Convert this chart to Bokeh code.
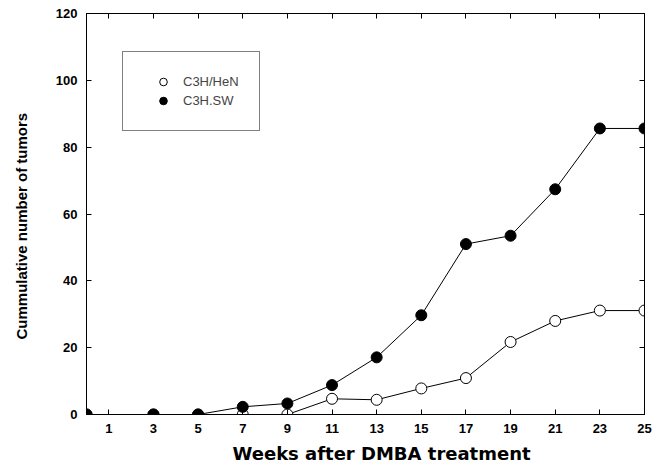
from bokeh.plotting import figure
from bokeh.models import Range1d, LinearAxis, FixedTicker, Legend, LegendItem, Title
from bokeh.embed import file_html
from bokeh.resources import INLINE

weeks = [0, 3, 5, 7, 9, 11, 13, 15, 17, 19, 21, 23, 25]
hen = [0, 0, 0, 0, 0, 4.7, 4.4, 7.8, 10.9, 21.7, 28.0, 31.1, 31.1]
sw = [0, 0, 0, 2.3, 3.3, 8.8, 17.1, 29.7, 51.0, 53.5, 67.4, 85.6, 85.6]
x_ticks = [1, 3, 5, 7, 9, 11, 13, 15, 17, 19, 21, 23, 25]
y_ticks = [0, 20, 40, 60, 80, 100, 120]
labels = ["C3H/HeN", "C3H.SW"]
x_title = "Weeks after DMBA treatment"
y_title = "Cummulative number of tumors"

FONT = "Liberation Sans"

p = figure(width=655, height=469, output_backend="svg", toolbar_location=None,
           x_range=Range1d(0, 25), y_range=Range1d(0, 120),
           min_border_left=86, min_border_right=11, min_border_top=13, min_border_bottom=10)
p.background_fill_color = "white"
p.border_fill_color = "white"
p.outline_line_color = "black"
p.outline_line_width = 1
p.xgrid.visible = False
p.ygrid.visible = False

for ax, ticks in ((p.xaxis[0], x_ticks), (p.yaxis[0], y_ticks)):
    ax.ticker = FixedTicker(ticks=ticks)
    ax.minor_tick_line_color = None
    ax.major_tick_in = 5
    ax.major_tick_out = 0
    ax.axis_line_color = "black"
    ax.major_tick_line_color = "black"
    ax.major_label_text_font = FONT
    ax.major_label_text_font_style = "bold"
    ax.major_label_text_font_size = "13px"
    ax.major_label_text_color = "black"

p.xaxis[0].major_label_standoff = 9
p.yaxis[0].major_label_standoff = 9

top = LinearAxis(ticker=FixedTicker(ticks=x_ticks), major_tick_in=5, major_tick_out=0,
                 minor_tick_line_color=None, major_label_text_color=None,
                 major_label_text_font_size="1px", major_label_standoff=0)
right = LinearAxis(ticker=FixedTicker(ticks=y_ticks), major_tick_in=5, major_tick_out=0,
                   minor_tick_line_color=None, major_label_text_color=None,
                   major_label_text_font_size="1px", major_label_standoff=0)
p.add_layout(top, "above")
p.add_layout(right, "right")

# invisible spacer between the y tick labels and the y title
spacer = LinearAxis(ticker=FixedTicker(ticks=y_ticks), major_tick_in=0, major_tick_out=19,
                    major_tick_line_color=None, axis_line_color=None,
                    minor_tick_line_color=None, major_label_text_color=None,
                    major_label_text_font_size="1px", major_label_standoff=0)
p.add_layout(spacer, "left")

xt = Title(text=x_title, align="left", offset=146, standoff=11,
           text_font="DejaVu Sans", text_font_size="18px", text_font_style="bold",
           text_color="black")
p.add_layout(xt, "below")

yt = Title(text=y_title, align="left", offset=75, standoff=8,
           text_font=FONT, text_font_size="15px", text_font_style="bold",
           text_color="black")
p.add_layout(yt, "left")

p.line(weeks, hen, line_color="black", line_width=1)
r_hen = p.scatter(weeks, hen, size=11, marker="circle", fill_color="white",
                  line_color="black", line_width=1)
p.line(weeks, sw, line_color="black", line_width=1)
r_sw = p.scatter(weeks, sw, size=11, marker="circle", fill_color="black",
                 line_color="black", line_width=1)

legend = Legend(items=[LegendItem(label=labels[0], renderers=[r_hen]),
                       LegendItem(label=labels[1], renderers=[r_sw])],
                location=(36, 283))
legend.border_line_color = "black"
legend.border_line_width = 1
legend.background_fill_color = "white"
legend.padding = 20
legend.spacing = 0
legend.glyph_width = 40
legend.glyph_height = 19
legend.label_height = 19
legend.label_standoff = 0
legend.label_text_font = FONT
legend.label_text_font_size = "13px"
legend.margin = 0
p.add_layout(legend, "center")

open("out.html", "w").write(file_html(p, INLINE))
